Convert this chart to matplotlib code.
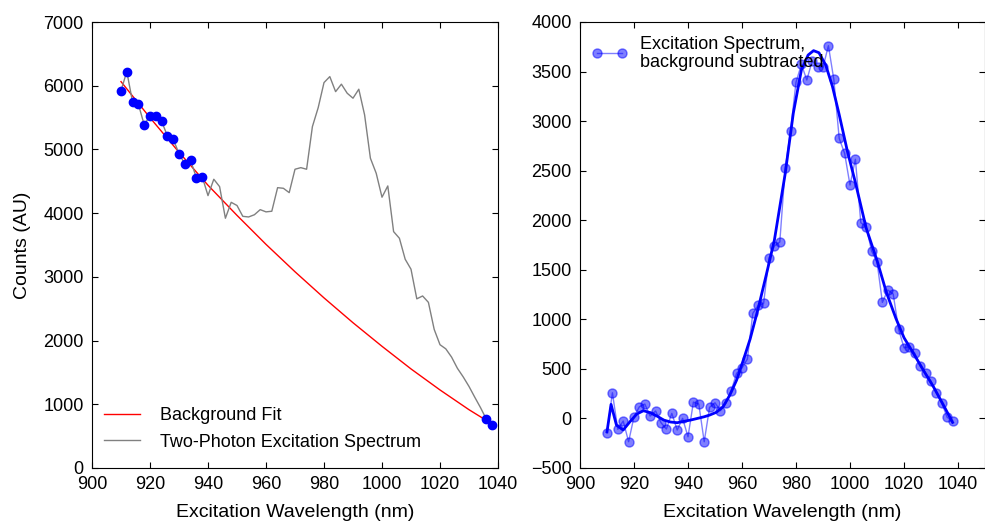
import numpy as np
import matplotlib
matplotlib.use("Agg")
import matplotlib.pyplot as plt

# wavelengths (nm), one point every 2 nm
wavelength = np.arange(910, 1040, 2)

# raw two-photon excitation spectrum (counts)
raw_counts = [5923, 6222, 5741, 5710, 5385, 5531, 5531, 5443, 5212, 5160,
              4934, 4772, 4830, 4553, 4573, 4275, 4532, 4416, 3920, 4170,
              4120, 3950, 3940, 3975, 4055, 4020, 4030, 4400, 4390, 4322,
              4689, 4714, 4689, 5358, 5656, 6049, 6143, 5907, 6024, 5882,
              5804, 5945, 5542, 4862, 4626, 4250, 4427, 3710, 3606, 3276,
              3120, 2655, 2700, 2600, 2175, 1935, 1870, 1740, 1565, 1430,
              1280, 1110, 945, 765, 672]

# points used for the background fit
bg_idx = list(range(15)) + [63, 64]

# background fit curve
fit_x = [910, 920, 930, 940, 950, 960, 970, 980, 990, 1000, 1010, 1020, 1030, 1038]
fit_y = [6064, 5498, 4956, 4438, 3965, 3510, 3080, 2670, 2280, 1910, 1555, 1225, 915, 690]

# background subtracted spectrum
sub_counts = [-150, 259, -110, -26, -235, 17, 118, 145, 24, 75,
              -43, -107, 51, -117, 1, -185, 165, 145, -235, 112,
              158, 78, 152, 280, 455, 509, 600, 1060, 1140, 1160,
              1620, 1740, 1780, 2524, 2903, 3392, 3573, 3415, 3607, 3549,
              3543, 3761, 3422, 2826, 2675, 2355, 2615, 1975, 1934, 1689,
              1581, 1171, 1296, 1255, 899, 713, 724, 657, 529, 455,
              377, 259, 152, 11, -23]

# smoothed curve through the subtracted spectrum
smooth_x = [910, 911.5, 913.5, 916, 918.5, 921, 923.5, 926, 928.5, 931,
            933.5, 936, 938.5, 941, 943, 946, 948, 950.5, 953, 955.5,
            958, 960.5, 963, 966, 969, 972, 976, 979, 982, 984.5,
            986.5, 988.5, 991, 993.5, 996, 999, 1002, 1006, 1010, 1013.5,
            1017, 1020, 1023.5, 1027, 1031, 1034.5, 1038]
smooth_y = [-134, 142, -67, -117, -33, 44, 78, 58, 24, -16,
            -36, -43, -29, -16, -3, 17, 34, 62, 118, 236,
            387, 589, 800, 1110, 1450, 1800, 2470, 3080, 3516, 3667,
            3711, 3690, 3566, 3350, 3065, 2700, 2380, 1920, 1595, 1270,
            1010, 815, 657, 495, 315, 140, -40]

plt.rcParams['font.family'] = ['Liberation Sans', 'DejaVu Sans']
plt.rcParams['xtick.direction'] = 'in'
plt.rcParams['ytick.direction'] = 'in'
plt.rcParams['xtick.top'] = True
plt.rcParams['ytick.right'] = True
plt.rcParams['xtick.major.size'] = 4
plt.rcParams['ytick.major.size'] = 4
plt.rcParams['xtick.major.pad'] = 6
plt.rcParams['ytick.major.pad'] = 6
plt.rcParams['xtick.labelsize'] = 13
plt.rcParams['ytick.labelsize'] = 13

fig = plt.figure(figsize=(9.85, 5.23), dpi=100)
ax1 = fig.add_axes([92/985, 1-468/523, 406/985, 446/523])
ax2 = fig.add_axes([580/985, 1-468/523, 405/985, 446/523])

wl = np.array(wavelength)
raw = np.array(raw_counts)
ax1.plot(fit_x, fit_y, color='r', lw=1, label='Background Fit')
ax1.plot(wl, raw, color='0.5', lw=1, label='Two-Photon Excitation Spectrum')
ax1.plot(wl[bg_idx], raw[bg_idx], 'o', color='b', mec='b', ms=6, ls='none')
ax1.set_xlim(900, 1040)
ax1.set_ylim(0, 7000)
ax1.set_xticks(np.arange(900, 1041, 20))
ax1.set_yticks(np.arange(0, 7001, 1000))
ax1.set_xlabel('Excitation Wavelength (nm)', fontsize=14, labelpad=7.5)
ax1.set_ylabel('Counts (AU)', fontsize=14, labelpad=9)
ax1.legend(loc='lower left', bbox_to_anchor=(0.012, 0.023), frameon=False,
           fontsize=13, handlelength=2, handletextpad=1.1, borderaxespad=0,
           labelspacing=0.5)

ax2.plot(wl, sub_counts, 'o-', color='b', alpha=0.5, lw=1, ms=6.5, mec='b',
         label='Excitation Spectrum,\nbackground subtracted')
ax2.plot(smooth_x, smooth_y, color='b', lw=2)
ax2.set_xlim(900, 1050)
ax2.set_ylim(-500, 4000)
ax2.set_xticks(np.arange(900, 1041, 20))
ax2.set_yticks(np.arange(-500, 4001, 500))
ax2.set_xlabel('Excitation Wavelength (nm)', fontsize=14, labelpad=7.5)
leg2 = ax2.legend(loc='upper left', bbox_to_anchor=(0.011, 0.985), frameon=False,
                  fontsize=13, numpoints=2, handlelength=2, handletextpad=0.7,
                  borderaxespad=0)
for t in leg2.get_texts():
    t.set_linespacing(1.05)

fig.savefig('out.png', dpi=100, facecolor='white')
